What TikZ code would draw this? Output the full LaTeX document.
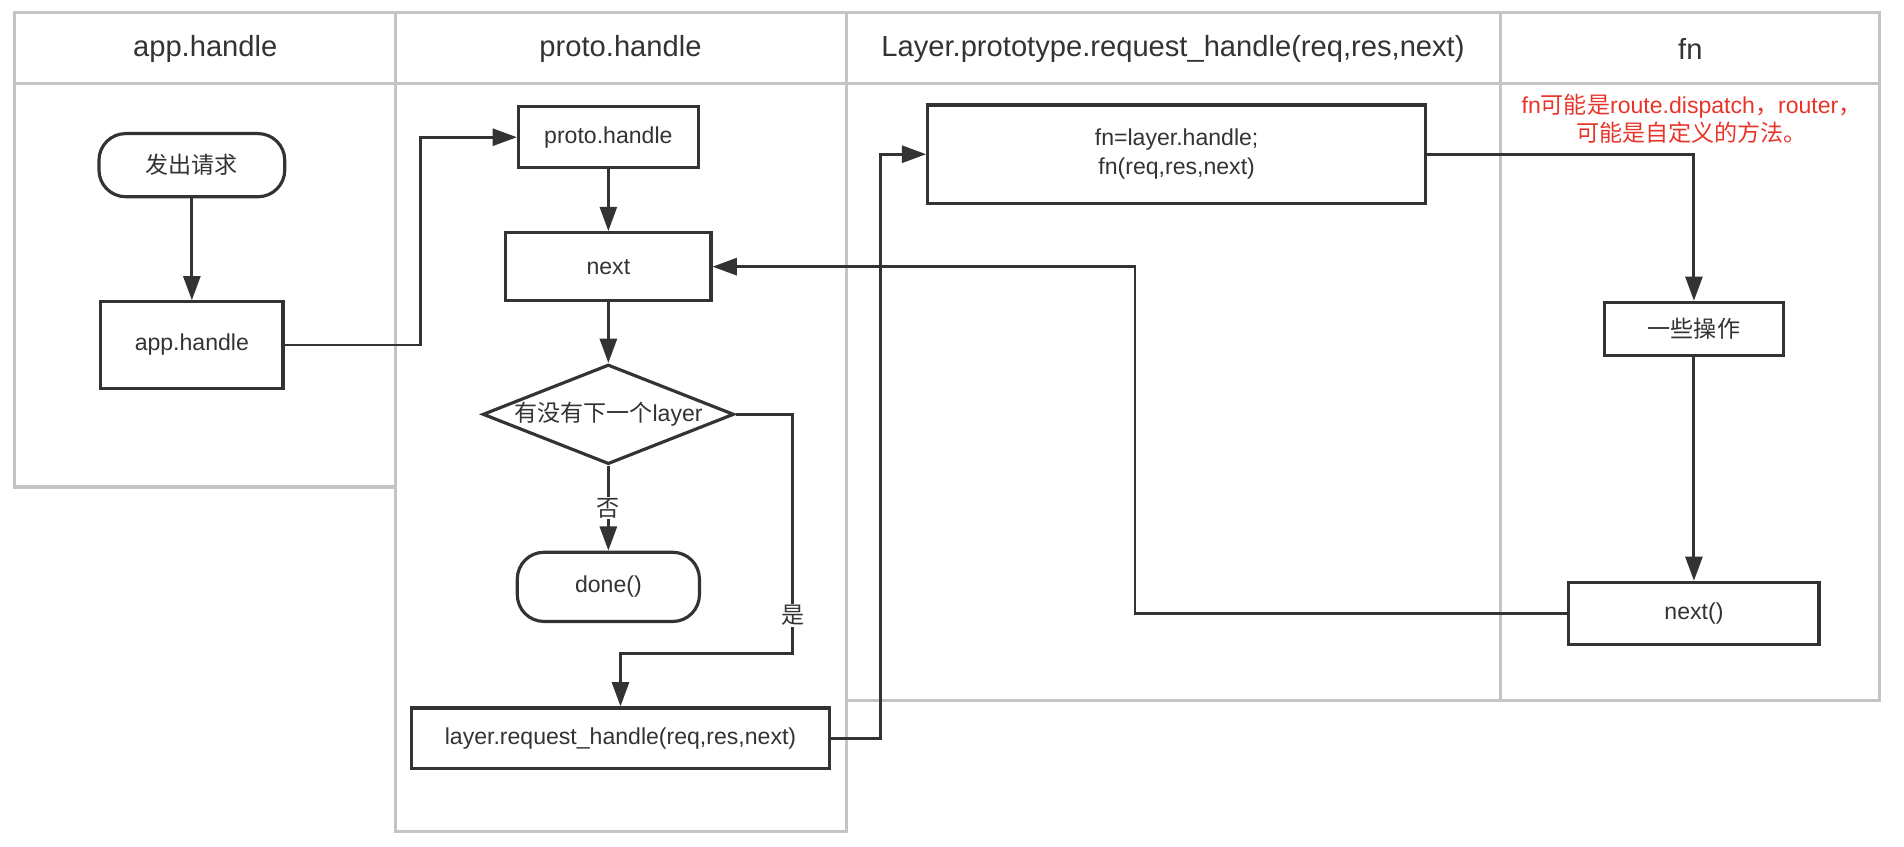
\documentclass[tikz,border=0pt]{standalone}
\usepackage{fontspec}
\setmainfont{Liberation Sans}
\newfontfamily\cjk{Noto Sans CJK SC}
\usepackage{tikz}
\usetikzlibrary{shapes.geometric, arrows.meta, calc, positioning}
\definecolor{ink}{HTML}{333333}
\definecolor{gridline}{HTML}{C4C4C4}
\definecolor{note}{HTML}{E8352B}
\tikzstyle{startstop} = [rectangle, rounded corners=22pt, minimum width=153pt, minimum
height=52pt, text centered, draw=ink, line width=2.6pt, fill=white, text=ink, font=\fontsize{19}{23}\selectfont]
\tikzstyle{process} = [rectangle, minimum width=150pt, minimum
height=50pt, text centered, draw=ink, line width=2.6pt, fill=white, text=ink, font=\fontsize{19}{24}\selectfont]
\tikzstyle{decision} = [diamond, aspect=2.5, minimum width=207pt, minimum
height=82pt, inner sep=0pt, draw=ink, line width=2.6pt, fill=white, text=ink, font=\fontsize{19}{23}\selectfont]
\tikzstyle{lanetitle} = [text=ink, font=\fontsize{24}{28}\selectfont]
\tikzstyle{lane} = [line width=2.6pt, draw=gridline]
\tikzstyle{tag} = [fill=white, text=ink, inner sep=1pt, font=\fontsize{19}{23}\selectfont\cjk]
\tikzstyle{arrow} = [line width=2.4pt, draw=ink, ->, >={Triangle[length=20pt,width=14pt]}]

\begin{document}
\begin{tikzpicture}[x=1pt, y=-1pt]
      \useasboundingbox (0,0) rectangle (1568,697);

      % swim lanes
      \draw [lane] (12,10) rectangle (326,401);
      \draw [lane] (326,10) rectangle (697,685);
      \draw [lane] (697,10) rectangle (1236,577);
      \draw [lane] (1236,10) rectangle (1548,577);
      \draw [lane] (12,69) -- (1548,69);

      \node (t1) [lanetitle] at (169,40) {app.handle};
      \node (t2) [lanetitle] at (511,40) {proto.handle};
      \node (t3) [lanetitle] at (966,40) {Layer.prototype.request\_handle(req,res,next)};
      \node (t4) [lanetitle] at (1392,40) {fn};

      \node (req) [startstop] at (158,136) {\cjk 发出请求};
      \node (app) [process, minimum height=71pt, below=84pt of req] {app.handle};

      \node (proto) [process, minimum width=148pt] at (501,113) {proto.handle};
      \node (nxt) [process, minimum width=169pt, minimum height=56pt, below=51pt of proto] {next};
      \node (chk) [decision, below=50pt of nxt] {{\cjk 有没有下一个}layer};
      \node (done) [startstop, minimum width=150pt, minimum height=57pt, below=70pt of chk] {done()};
      \node (layer) [process, minimum width=344pt] at (511,608) {layer.request\_handle(req,res,next)};

      \node (fnbox) [process, minimum width=410pt, minimum height=81pt, align=center] at (969,127)
      {fn=layer.handle;\\fn(req,res,next)};

      \node (memo) [text=note, align=center, font=\fontsize{19}{23}\selectfont] at (1393,98)
      {fn{\cjk 可能是}route.dispatch{\cjk ，}router{\cjk ，}\\{\cjk 可能是自定义的方法。}};
      \node (ops) [process, minimum width=148pt, minimum height=44pt] at (1395,271) {\cjk 一些操作};
      \node (nextfn) [process, minimum width=206pt, minimum height=51pt, below=184pt of ops] {next()};

      \draw [arrow] (req) -- (app);
      \draw [arrow] (app.east) -- ++(112,0) |- (proto.west);
      \draw [arrow] (proto) -- (nxt);
      \draw [arrow] (nxt) -- (chk);
      \draw [arrow] (chk) -- node [tag] {否} (done);
      \draw [arrow] (chk.east) -- ++(47,0) -- ++(0,197) node [tag, pos=0.84] {是} -| (layer.north);
      \draw [arrow] (layer.east) -- ++(41,0) |- (fnbox.west);
      \draw [arrow] (fnbox.east) -| (ops.north);
      \draw [arrow] (ops) -- (nextfn);
      \draw [arrow] (nextfn.west) -- ++(-356,0) |- (nxt.east);
    \end{tikzpicture}
\end{document}
